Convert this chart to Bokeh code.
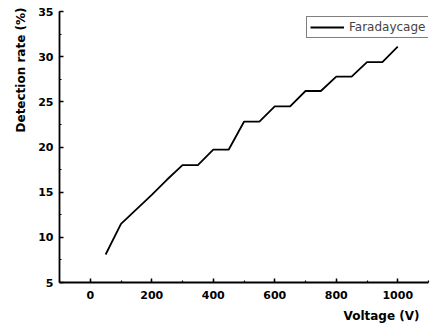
from bokeh.plotting import figure
from bokeh.models import Range1d, Legend, LegendItem, Title, SingleIntervalTicker
from bokeh.embed import file_html
from bokeh.resources import INLINE

voltage = [50, 100, 150, 200, 250, 300, 350, 400, 450, 500, 550, 600, 650, 700, 750, 800, 850, 900, 950, 1000]
detection_rate = [8.1, 11.5, 13.1, 14.7, 16.4, 18.0, 18.0, 19.7, 19.7, 22.8, 22.8, 24.5, 24.5, 26.2, 26.2, 27.8, 27.8, 29.4, 29.4, 31.1]
series_name = "Faradaycage"
x_label = "Voltage (V)"
y_label = "Detection rate (%)"

p = figure(width=439, height=327, output_backend="svg", toolbar_location=None,
           x_range=Range1d(-100, 1100), y_range=Range1d(5, 35),
           min_border_left=59, min_border_right=11, min_border_top=11, min_border_bottom=45)
p.outline_line_color = None
p.xgrid.visible = False
p.ygrid.visible = False
p.background_fill_color = "white"
p.border_fill_color = "white"

r = p.line(voltage, detection_rate, line_color="black", line_width=1.8)

p.xaxis.ticker = SingleIntervalTicker(interval=200, num_minor_ticks=2)
p.yaxis.ticker = SingleIntervalTicker(interval=5, num_minor_ticks=2)

for ax in (p.xaxis[0], p.yaxis[0]):
    ax.axis_line_width = 1.8
    ax.axis_line_color = "black"
    ax.major_tick_in = 4
    ax.major_tick_out = 0
    ax.minor_tick_in = 2
    ax.minor_tick_out = 0
    ax.major_tick_line_width = 1.5
    ax.minor_tick_line_width = 1.2
    ax.major_label_text_font = "DejaVu Sans"
    ax.major_label_text_font_style = "bold"
    ax.major_label_text_font_size = "11px"
    ax.major_label_text_color = "black"

p.xaxis.major_label_standoff = 8
p.yaxis.major_label_standoff = 6

title_x = Title(text=x_label, align="right", offset=9, standoff=10,
                text_font="DejaVu Sans", text_font_style="bold", text_font_size="12px",
                text_color="black")
title_y = Title(text=y_label, align="right", offset=-4, standoff=16,
                text_font="DejaVu Sans", text_font_style="bold", text_font_size="12px",
                text_color="black")
p.add_layout(title_x, "below")
p.add_layout(title_y, "left")

legend = Legend(items=[LegendItem(label=series_name, renderers=[r])],
                location=(247, 244), margin=0, padding=3, spacing=0,
                glyph_width=34, glyph_height=10, label_height=10, label_standoff=5,
                label_text_font="DejaVu Sans", label_text_font_size="12px",
                border_line_color="black", border_line_width=1,
                background_fill_alpha=1)
p.add_layout(legend)

open("out.html", "w").write(file_html(p, INLINE))
